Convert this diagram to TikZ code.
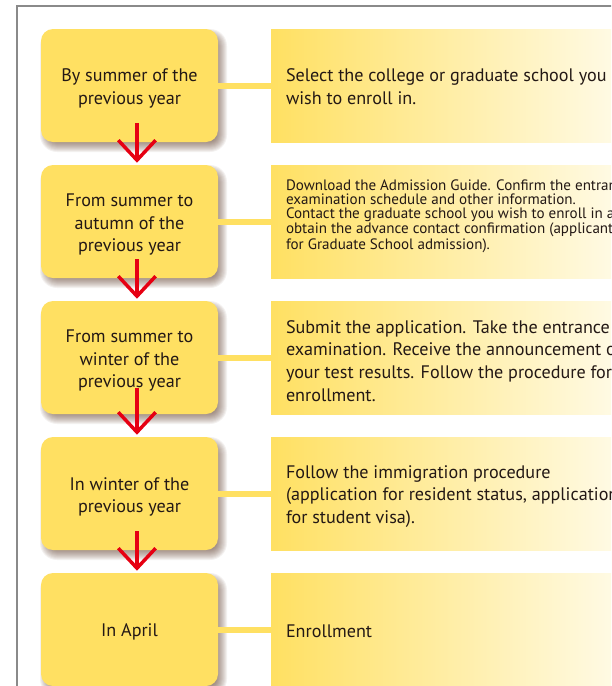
\documentclass[tikz,border=0pt]{standalone}
\usepackage{fontspec}
\setmainfont{PT Sans}
\usetikzlibrary{arrows.meta}
\definecolor{boxy}{HTML}{FFE062}
\definecolor{boxlight}{HTML}{FFFDF2}
\definecolor{arrred}{HTML}{E60012}
\definecolor{txt}{HTML}{231815}
\definecolor{framec}{HTML}{8A8A8A}
\definecolor{shad}{HTML}{5C3A28}
\tikzset{
  stage/.style={rectangle, rounded corners=9pt, fill=boxy, minimum width=132.75pt,
    minimum height=84.75pt, inner sep=0pt},
  stagetext/.style={align=center, text=txt, inner sep=0pt,
    font=\fontsize{13.6}{17}\selectfont},
  task/.style={rectangle, left color=boxy, right color=boxlight, minimum width=284.25pt,
    minimum height=84.75pt, inner sep=0pt},
  tasktext/.style={anchor=west, align=left, text=txt, inner sep=0pt,
    font=\fontsize{13.6}{17}\selectfont},
  smalltext/.style={anchor=west, align=left, text=txt, inner sep=0pt,
    font=\fontsize{11.3}{10.4}\selectfont},
  shadowpiece/.style={shad, opacity=0.065},
  link/.style={boxy, line width=4.5pt},
  flow/.style={arrred, line width=2.6pt, -{Straight Barb[length=15pt, width=28pt, line width=2.6pt]}},
}
\begin{document}
\begin{tikzpicture}[x=0.75pt,y=-0.75pt]
\clip (0,0) rectangle (611,686);
\fill[white] (0,0) rectangle (611,686);
\draw[framec, line width=1.1pt] (17,700) -- (17,6) -- (640,6);

% soft shadows of the stage boxes
\foreach \y in {85.5,221.5,357.5,493.5,629.5} {
  \foreach \e in {-5,...,5} {
    \pgfmathsetmacro{\rc}{(12+\e)*0.75}
    \fill[shadowpiece, rounded corners=\rc pt] (45-\e,\y-51.5-\e) rectangle (222+\e,\y+61.5+\e);
  }
}

% left stage boxes
\node[stage] (L1) at (129.5,85.5) {};
\node[stage] (L2) at (129.5,221.5) {};
\node[stage] (L3) at (129.5,357.5) {};
\node[stage] (L4) at (129.5,493.5) {};
\node[stage] (L5) at (129.5,629.5) {};
\node[stagetext] (S1) at ([yshift=-2pt]L1.center) {By summer of the\\previous year};
\node[stagetext] (S2) at ([yshift=-2.5pt]L2.center) {From summer to\\autumn of the\\previous year};
\node[stagetext] (S3) at ([yshift=-2.5pt]L3.center) {From summer to\\winter of the\\previous year};
\node[stagetext] (S4) at ([yshift=-2.5pt]L4.center) {In winter of the\\previous year};
\node[stagetext] (S5) at ([yshift=-1.5pt]L5.center) {In April};

% right task boxes
\node[task] (R1) at (460.5,85.5) {};
\node[task] (R2) at (460.5,221.5) {};
\node[task] (R3) at (460.5,357.5) {};
\node[task] (R4) at (460.5,493.5) {};
\node[task] (R5) at (460.5,629.5) {};

\node[tasktext] (T1) at ([xshift=11.25pt,yshift=-1pt]R1.west) {Select the college or graduate school you\\wish to enroll in.};
\node[smalltext] (T2) at ([xshift=11.25pt,yshift=4pt]R2.west) {Download the Admission Guide. Confirm the entrance\\examination schedule and other information.\\Contact the graduate school you wish to enroll in and\\obtain the advance contact confirmation (applicants\\for Graduate School admission).};
\node[tasktext] (T3) at ([xshift=11.25pt,yshift=-2.5pt]R3.west) {Submit the application. Take the entrance\\examination. Receive the announcement of\\your test results. Follow the procedure for\\enrollment.};
\node[tasktext] (T4) at ([xshift=11.25pt,yshift=-2.2pt]R4.west) {Follow the immigration procedure\\(application for resident status, application\\for student visa).};
\node[tasktext] (T5) at ([xshift=11.25pt,yshift=-1.5pt]R5.west) {Enrollment};

% links
\foreach \i in {1,...,5} {\draw[link] (L\i.east) -- (R\i.west);}

% arrows
\coordinate (a1) at ([xshift=5.6pt,yshift=14.25pt]L1.south);
\coordinate (a2) at ([xshift=5.6pt,yshift=14.25pt]L2.south);
\coordinate (a3) at ([xshift=5.6pt,yshift=19.5pt]L3.south);
\coordinate (a4) at ([xshift=5.6pt,yshift=14.25pt]L4.south);
\draw[flow] (a1) -- ([xshift=5.6pt,yshift=1.5pt]L2.north);
\draw[flow] (a2) -- ([xshift=5.6pt,yshift=1.5pt]L3.north);
\draw[flow] (a3) -- ([xshift=5.6pt,yshift=1.5pt]L4.north);
\draw[flow] (a4) -- ([xshift=5.6pt,yshift=1.5pt]L5.north);
\end{tikzpicture}
\end{document}
